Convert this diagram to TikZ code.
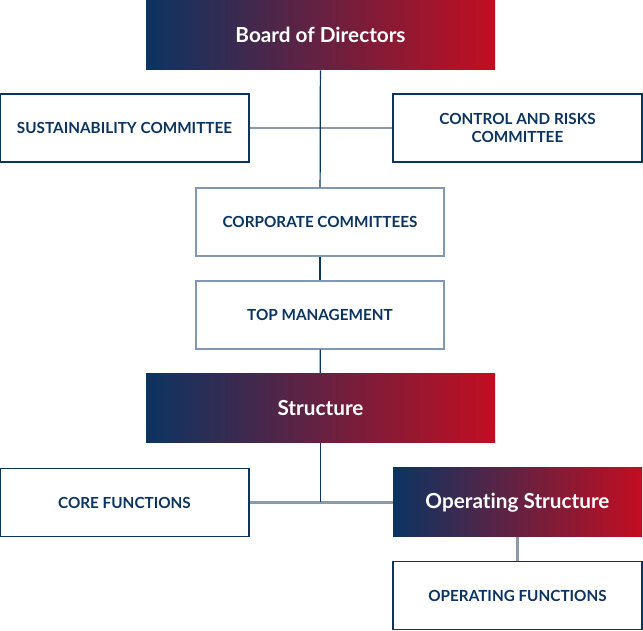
\documentclass[tikz,border=0pt]{standalone}
\usepackage{fontspec}
\setmainfont[Ligatures=NoCommon]{Lato}
\definecolor{navy}{HTML}{0B3461}
\definecolor{crimson}{HTML}{C20E21}
\definecolor{greyline}{HTML}{8A9AAB}
\definecolor{paleblue}{HTML}{7F99B4}
\tikzset{
  box/.style={draw=navy, line width=0.8pt, fill=white, minimum width=249*0.02cm,
    minimum height=68*0.02cm, inner sep=0pt, align=center, text=navy,
    font=\fontsize{8.7}{10}\selectfont\bfseries},
  palebox/.style={box, draw=paleblue, minimum width=248*0.02cm},
  headbox/.style={inner sep=0pt, minimum height=69*0.02cm, left color=navy,
    right color=crimson, text=white, font=\fontsize{11.8}{14}\selectfont\bfseries},
  vline/.style={draw=navy, line width=0.7pt},
  hline/.style={draw=greyline, line width=1.2pt}
}
\begin{document}
\begin{tikzpicture}[x=0.02cm, y=-0.02cm]
      \useasboundingbox (0,0) rectangle (643,631);
      \node[headbox, minimum width=349*0.02cm, minimum height=70*0.02cm] (board) at (320.5,35) {Board of Directors};
      \node[box] (sust) at (124.5,128) {SUSTAINABILITY COMMITTEE};
      \node[box] (ctrl) at (517.5,128) {CONTROL AND RISKS\\COMMITTEE};
      \node[palebox] (corp) at (320,222) {CORPORATE COMMITTEES};
      \node[palebox] (top) at (320,315) {TOP MANAGEMENT};
      \node[headbox, minimum width=349*0.02cm] (struct) at (320.5,408) {Structure};
      \node[box] (core) at (124.5,502.5) {CORE FUNCTIONS};
      \node[headbox, minimum width=249*0.02cm] (opstruct) at (517.5,502.5) {Operating Structure};
      \node[box] (opfun) at (517.5,595.5) {OPERATING FUNCTIONS};
      \coordinate (join) at (struct.south |- core.east);
      \begin{scope}
        \draw[hline] (sust) -- (ctrl);
        \draw[vline] (board) -- (corp);
        \draw[vline] (corp) -- (top);
        \draw[vline] (top) -- (struct);
        \draw[hline] (core) -- (opstruct);
        \draw[vline] (struct) -- (join);
        \draw[hline] (opstruct) -- (opfun);
      \end{scope}
    \end{tikzpicture}
\end{document}
